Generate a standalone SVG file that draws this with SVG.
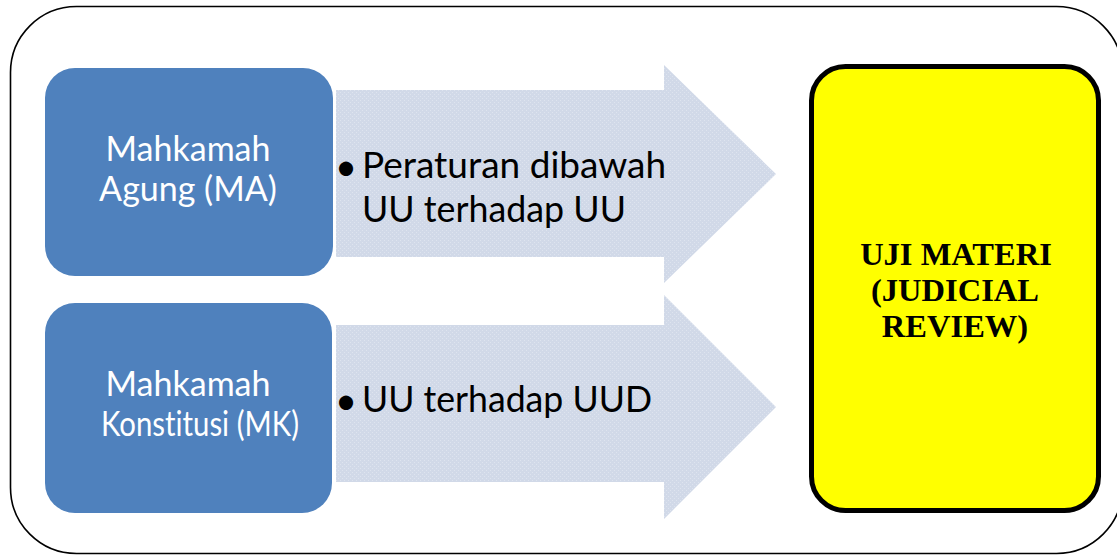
<svg xmlns="http://www.w3.org/2000/svg" width="1117" height="555" viewBox="0 0 1117 555">
  <style>
    .frame { fill: #ffffff; stroke: #000000; stroke-width: 1.6; }
    .court { fill: #4F81BD; }
    .court-text { font-family: Lato, "Open Sans", sans-serif; font-size: 34px; fill: #ffffff; text-anchor: middle; font-variant-ligatures: none; }
    .arrow { fill: url(#dots); }
    .item-text { font-family: Lato, "Open Sans", sans-serif; font-size: 37px; fill: #000000; font-variant-ligatures: none; }
    .bullet { font-family: Lato, "Open Sans", sans-serif; font-size: 38px; fill: #000000; }
    .result { fill: #FFFF00; stroke: #000000; stroke-width: 5; }
    .result-text { font-family: "Liberation Serif", "Times New Roman", serif; font-weight: bold; font-size: 32.5px; fill: #000000; text-anchor: middle; }
  </style>
  <defs>
    <!-- fine dotted texture of the light-blue arrows -->
    <pattern id="dots" width="4" height="4" patternUnits="userSpaceOnUse">
      <rect width="4" height="4" fill="#D1D9E8"/>
      <rect x="0" y="0" width="1" height="1" fill="#DEE4EF"/>
      <rect x="2" y="2" width="1" height="1" fill="#DEE4EF"/>
    </pattern>
  </defs>

  <rect class="frame" x="10.5" y="6.5" width="1112" height="547" rx="66" ry="66"/>

  <g id="connectors">
    <polygon id="arrow-ma" class="arrow" points="336,90 664,90 664,65 776,174 664,283 664,257 336,257"/>
    <polygon id="arrow-mk" class="arrow" points="336,325 664,325 664,295 776,407 664,519 664,482 336,482"/>
  </g>

  <g id="node-ma">
    <rect class="court" x="45" y="68" width="288" height="208" rx="30" ry="30"/>
    <text class="court-text"><tspan x="188" y="161">Mahkamah</tspan><tspan x="188" y="201">Agung (MA)</tspan></text>
  </g>

  <g id="node-mk">
    <rect class="court" x="45" y="303" width="287" height="210" rx="30" ry="30"/>
    <text class="court-text"><tspan x="188" y="396">Mahkamah</tspan><tspan x="200" y="436" textLength="198" lengthAdjust="spacingAndGlyphs">Konstitusi (MK)</tspan></text>
  </g>

  <g id="label-ma">
    <text class="bullet" x="335" y="180">•</text>
    <text class="item-text"><tspan x="362" y="178">Peraturan dibawah</tspan><tspan x="362" y="222" textLength="264" lengthAdjust="spacingAndGlyphs">UU terhadap UU</tspan></text>
  </g>

  <g id="label-mk">
    <text class="bullet" x="335" y="414">•</text>
    <text class="item-text" x="362" y="412" textLength="290" lengthAdjust="spacingAndGlyphs">UU terhadap UUD</text>
  </g>

  <g id="node-result">
    <rect class="result" x="811.5" y="66.5" width="287" height="444" rx="34" ry="34"/>
    <text class="result-text"><tspan x="956" y="265">UJI MATERI</tspan><tspan x="955" y="301">(JUDICIAL</tspan><tspan x="955" y="337">REVIEW)</tspan></text>
  </g>
</svg>
